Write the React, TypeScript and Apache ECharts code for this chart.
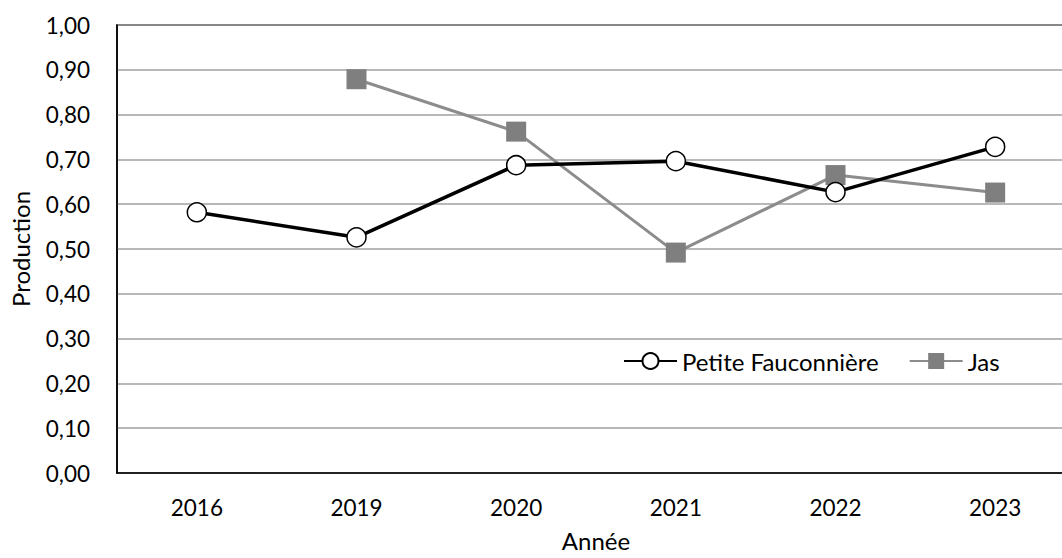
import React, { useEffect, useRef } from "react";
import * as echarts from "echarts";

const years = ["2016", "2019", "2020", "2021", "2022", "2023"];
const petiteFauconniere = [0.582, 0.526, 0.687, 0.696, 0.627, 0.728];
const jas = [null, 0.879, 0.762, 0.492, 0.665, 0.626];
const yTicks = { min: 0, max: 1, interval: 0.1 };

const FONT = "Lato, 'Noto Sans', sans-serif";

export default function App() {
  const ref = useRef<HTMLDivElement>(null);
  useEffect(() => {
    if (!ref.current) return;
    const chart = echarts.init(ref.current, null, { renderer: "svg" });
    chart.setOption({
      animation: false,
      backgroundColor: "#ffffff",
      textStyle: { fontFamily: FONT },
      grid: {
        left: 117,
        top: 25,
        bottom: 85,
        right: -13,
        show: true,
        borderColor: "#000000",
        borderWidth: 1.5,
        containLabel: false,
        outerBoundsMode: "none",
      },
      legend: {
        left: 618,
        top: 344,
        itemWidth: 53,
        itemHeight: 20,
        itemGap: 30,
        textStyle: { fontFamily: FONT, fontSize: 24, color: "#000" },
        data: ["Petite Fauconnière", "Jas"],
      },
      xAxis: {
        type: "category",
        data: years,
        boundaryGap: true,
        name: "Année",
        nameLocation: "middle",
        nameGap: 55,
        nameTextStyle: { fontFamily: FONT, fontSize: 24, color: "#000" },
        axisLine: { lineStyle: { color: "#000", width: 1.5 } },
        axisTick: { show: false },
        axisLabel: { fontFamily: FONT, fontSize: 22.5, color: "#000", margin: 23 },
        splitLine: { show: false },
      },
      yAxis: {
        type: "value",
        min: yTicks.min,
        max: yTicks.max,
        interval: yTicks.interval,
        name: "Production",
        nameLocation: "middle",
        nameGap: 85,
        nameRotate: 90,
        nameTextStyle: { fontFamily: FONT, fontSize: 24, color: "#000" },
        axisLine: { show: true, lineStyle: { color: "#000", width: 1.5 } },
        axisTick: { show: false },
        axisLabel: {
          fontFamily: FONT,
          fontSize: 22.5,
          color: "#000",
          margin: 27,
          formatter: (v: number) => v.toFixed(2).replace(".", ","),
        },
        splitLine: { show: true, lineStyle: { color: "#a0a0a0", width: 1.5 } },
      },
      series: [
        {
          name: "Petite Fauconnière",
          type: "line",
          data: petiteFauconniere,
          symbol: "circle",
          symbolSize: 19,
          showAllSymbol: true,
          lineStyle: { color: "#000", width: 3.5 },
          itemStyle: { color: "#ffffff", borderColor: "#000", borderWidth: 1.5 },
          z: 3,
        },
        {
          name: "Jas",
          type: "line",
          data: jas,
          symbol: "rect",
          symbolSize: 20,
          showAllSymbol: true,
          connectNulls: false,
          lineStyle: { color: "#8c8c8c", width: 3 },
          itemStyle: { color: "#7f7f7f", borderColor: "#7f7f7f", borderWidth: 0 },
          z: 2,
        },
      ],
    });
    return () => chart.dispose();
  }, []);
  return (
    <div
      ref={ref}
      style={{ position: "fixed", left: 0, top: 0, width: 1062, height: 558 }}
    />
  );
}
